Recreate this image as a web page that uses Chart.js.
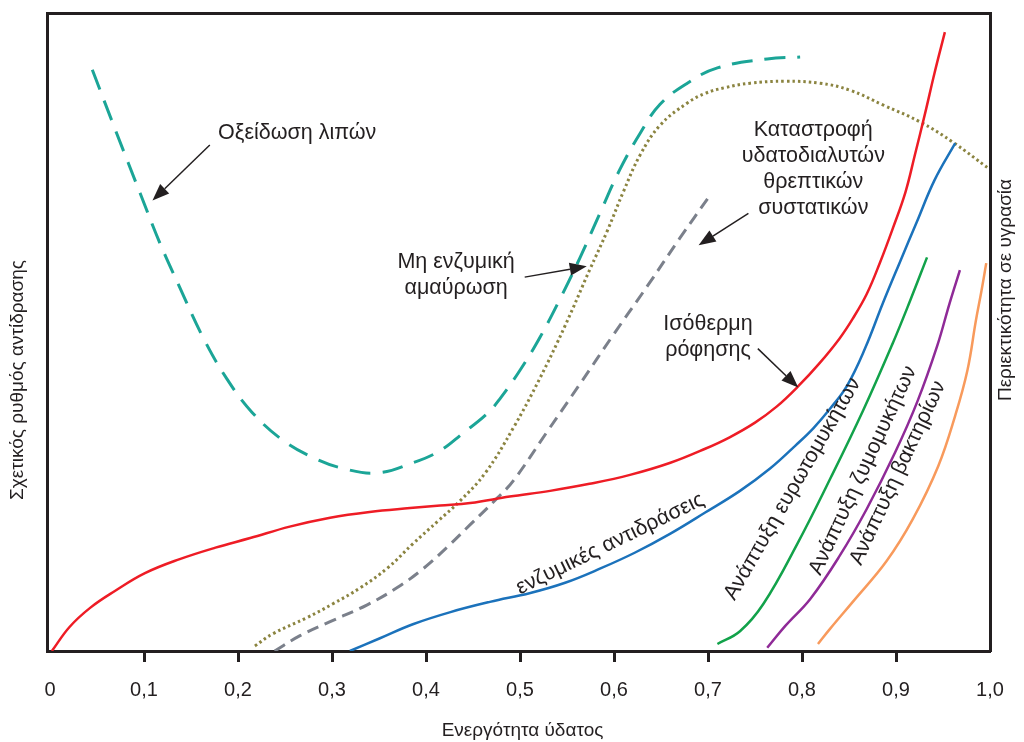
<!DOCTYPE html>
<html>
<head>
<meta charset="utf-8">
<script src="https://cdn.jsdelivr.net/npm/chart.js@4.4.0/dist/chart.umd.min.js"></script>
<style>
  html, body { margin: 0; padding: 0; background: #fff; }
  #wrap { width: 1024px; height: 742px; }
</style>
</head>
<body>
<div id="wrap"><canvas id="stabilityChart" width="1024" height="742"></canvas></div>
<script>
// water activity ticks
const awTicks = [0, 0.1, 0.2, 0.3, 0.4, 0.5, 0.6, 0.7, 0.8, 0.9, 1.0];

// relative reaction rate curves (y axis is unitless, 0-100)
const lipidX = [0.045, 0.070, 0.096, 0.117, 0.138, 0.163, 0.188, 0.215, 0.248, 0.280, 0.312, 0.348, 0.386, 0.415, 0.439, 0.465, 0.479, 0.500, 0.521, 0.543, 0.564, 0.585, 0.606, 0.628, 0.649, 0.678, 0.710, 0.763, 0.798];
const lipidY = [91.1, 81.5, 71.7, 63.9, 57.0, 49.1, 42.7, 37.4, 33.0, 30.3, 28.6, 27.9, 29.5, 31.4, 34.1, 37.2, 39.6, 44.0, 49.1, 55.3, 61.7, 68.6, 75.4, 81.2, 85.7, 89.0, 91.4, 92.8, 93.1];

const browningX = [0.218, 0.237, 0.273, 0.301, 0.330, 0.359, 0.386, 0.413, 0.436, 0.463, 0.493, 0.521, 0.548, 0.574, 0.593, 0.610, 0.628, 0.649, 0.678, 0.697, 0.718, 0.745, 0.782, 0.819, 0.851, 0.886, 0.926, 0.961, 0.997];
const browningY = [0.8, 2.7, 5.2, 7.4, 9.9, 13.0, 16.8, 20.4, 23.5, 27.9, 35.0, 42.7, 51.0, 59.7, 65.9, 72.0, 77.8, 82.4, 85.9, 87.4, 88.3, 89.0, 89.3, 89.0, 87.9, 85.6, 82.9, 79.7, 75.8];

const nutrientX = [0.239, 0.266, 0.298, 0.337, 0.369, 0.397, 0.422, 0.447, 0.476, 0.493, 0.529, 0.564, 0.599, 0.635, 0.670, 0.702];
const nutrientY = [0, 2.4, 4.6, 7.2, 9.9, 12.9, 16.2, 19.8, 24.0, 26.7, 34.4, 41.9, 49.5, 57.1, 64.7, 71.4];

const isothermX = [0.002, 0.021, 0.043, 0.069, 0.101, 0.138, 0.176, 0.213, 0.255, 0.298, 0.340, 0.383, 0.415, 0.447, 0.489, 0.532, 0.574, 0.617, 0.660, 0.697, 0.723, 0.750, 0.773, 0.796, 0.818, 0.840, 0.854, 0.869, 0.883, 0.897, 0.910, 0.920, 0.931, 0.941, 0.952];
const isothermY = [0, 3.8, 6.8, 9.4, 12.2, 14.4, 16.2, 17.7, 19.5, 20.9, 21.8, 22.4, 22.8, 23.2, 24.2, 25.1, 26.2, 27.6, 29.5, 31.7, 33.5, 35.8, 38.3, 41.5, 45.0, 49.0, 52.1, 56.0, 60.9, 66.4, 71.9, 77.7, 84.3, 90.6, 97.0];

const enzymeX = [0.319, 0.351, 0.386, 0.426, 0.468, 0.511, 0.548, 0.585, 0.622, 0.660, 0.697, 0.734, 0.766, 0.793, 0.812, 0.830, 0.848, 0.867, 0.886, 0.904, 0.922, 0.941, 0.963];
const enzymeY = [0, 2.0, 4.2, 6.1, 7.7, 9.1, 10.7, 12.9, 15.4, 18.4, 21.7, 25.1, 28.6, 32.2, 34.9, 38.0, 41.6, 47.4, 54.5, 60.9, 67.2, 73.8, 79.6];

const moldX = [0.710, 0.734, 0.759, 0.795, 0.830, 0.865, 0.897, 0.915, 0.933];
const moldY = [1.1, 3.1, 7.4, 16.8, 27.0, 37.7, 48.4, 54.9, 61.7];

const yeastX = [0.763, 0.782, 0.809, 0.840, 0.869, 0.899, 0.923, 0.944, 0.957, 0.968];
const yeastY = [0.5, 3.9, 8.2, 14.9, 22.3, 31.1, 39.2, 47.9, 54.5, 59.7];

const bacteriaX = [0.817, 0.830, 0.854, 0.890, 0.918, 0.945, 0.963, 0.976, 0.985, 0.991, 0.996];
const bacteriaY = [1.1, 3.5, 7.7, 14.1, 20.7, 29.0, 36.9, 44.0, 51.8, 56.5, 60.8];

const ink = '#231f20';
const font = '"Liberation Sans", Arial, sans-serif';

function pts(xs, ys) {
  return xs.map((v, i) => ({ x: v, y: ys[i] }));
}

function line(xs, ys, color, dash, width) {
  return {
    data: pts(xs, ys),
    borderColor: color,
    borderWidth: width || 2.5,
    borderDash: dash || [],
    pointRadius: 0,
    fill: false,
    tension: 0.4
  };
}

// labels and arrows, placed in data coordinates
const notes = [
  { lines: ['Οξείδωση λιπών'], x: 0.263, y: 81.2 },
  { lines: ['Μη ενζυμική', 'αμαύρωση'], x: 0.432, y: 58.9 },
  { lines: ['Καταστροφή', 'υδατοδιαλυτών', 'θρεπτικών', 'συστατικών'], x: 0.812, y: 75.5 },
  { lines: ['Ισόθερμη', 'ρόφησης'], x: 0.700, y: 49.2 },
  { lines: ['ενζυμικές αντιδράσεις'], x: 0.596, y: 16.8, angle: -26 },
  { lines: ['Ανάπτυξη ευρωτομυκήτων'], x: 0.790, y: 25.4, angle: -60 },
  { lines: ['Ανάπτυξη ζυμομυκήτων'], x: 0.865, y: 28.3, angle: -65 },
  { lines: ['Ανάπτυξη βακτηρίων'], x: 0.902, y: 27.9, angle: -65 }
];
const arrows = [
  { from: [0.170, 79.3], to: [0.109, 70.6] },
  { from: [0.505, 58.6], to: [0.571, 60.3] },
  { from: [0.743, 68.6], to: [0.690, 63.6] },
  { from: [0.753, 47.4], to: [0.796, 41.3] }
];

const textPlugin = {
  id: 'stabilityText',
  afterDraw(chart) {
    const { ctx, chartArea, scales: { x, y } } = chart;
    ctx.save();
    ctx.fillStyle = ink;
    ctx.strokeStyle = ink;
    ctx.textAlign = 'center';
    ctx.textBaseline = 'middle';
    ctx.font = '21.5px ' + font;

    notes.forEach(n => {
      ctx.save();
      ctx.translate(x.getPixelForValue(n.x), y.getPixelForValue(n.y));
      ctx.rotate((n.angle || 0) * Math.PI / 180);
      n.lines.forEach((t, i) => ctx.fillText(t, 0, (i - (n.lines.length - 1) / 2) * 26));
      ctx.restore();
    });

    arrows.forEach(a => {
      const x1 = x.getPixelForValue(a.from[0]), y1 = y.getPixelForValue(a.from[1]);
      const x2 = x.getPixelForValue(a.to[0]), y2 = y.getPixelForValue(a.to[1]);
      const ang = Math.atan2(y2 - y1, x2 - x1);
      const head = 17, half = 6.5;
      ctx.lineWidth = 1.5;
      ctx.beginPath();
      ctx.moveTo(x1, y1);
      ctx.lineTo(x2 - head * Math.cos(ang), y2 - head * Math.sin(ang));
      ctx.stroke();
      ctx.beginPath();
      ctx.moveTo(x2, y2);
      ctx.lineTo(x2 - head * Math.cos(ang) + half * Math.sin(ang), y2 - head * Math.sin(ang) - half * Math.cos(ang));
      ctx.lineTo(x2 - head * Math.cos(ang) - half * Math.sin(ang), y2 - head * Math.sin(ang) + half * Math.cos(ang));
      ctx.closePath();
      ctx.fill();
    });

    // axis titles
    ctx.font = '19px ' + font;
    ctx.fillText('Ενεργότητα ύδατος', (chartArea.left + chartArea.right) / 2 + 4, chartArea.bottom + 80);
    ctx.save();
    ctx.translate(chartArea.left - 29, 380);
    ctx.rotate(-Math.PI / 2);
    ctx.fillText('Σχετικός ρυθμός αντίδρασης', 0, 0);
    ctx.restore();
    ctx.save();
    ctx.translate(chartArea.right + 16, 290);
    ctx.rotate(-Math.PI / 2);
    ctx.fillText('Περιεκτικότητα σε υγρασία', 0, 0);
    ctx.restore();
    ctx.restore();
  }
};

const hiddenAxis = (pos, axis) => ({
  position: pos,
  axis: axis,
  min: 0,
  max: 1,
  ticks: { display: false },
  grid: { display: false, drawTicks: false },
  border: { display: true, color: ink, width: 3 }
});

new Chart(document.getElementById('stabilityChart'), {
  type: 'line',
  data: {
    datasets: [
      line(isothermX, isothermY, '#ee1c25'),
      line(enzymeX, enzymeY, '#1b72bb'),
      line(moldX, moldY, '#12a24a'),
      line(yeastX, yeastY, '#8f2a97'),
      line(bacteriaX, bacteriaY, '#f89a5c'),
      line(nutrientX, nutrientY, '#7b808b', [12, 7], 3),
      line(browningX, browningY, '#8b8440', [2.5, 3], 3),
      line(lipidX, lipidY, '#1ba597', [21, 12], 3)
    ]
  },
  options: {
    responsive: false,
    animation: false,
    layout: { padding: { left: 47, right: 34, top: 13, bottom: 24 } },
    plugins: { legend: { display: false }, tooltip: { enabled: false } },
    scales: {
      x: {
        type: 'linear',
        position: 'bottom',
        min: -0.0032,
        max: 1.0,
        afterBuildTicks: s => { s.ticks = awTicks.map(v => ({ value: v })); },
        ticks: {
          color: ink,
          padding: 16,
          maxRotation: 0,
          autoSkip: false,
          font: { family: font, size: 20 },
          callback: v => v === 0 ? '0' : v.toFixed(1).replace('.', ',')
        },
        grid: {
          display: true,
          drawOnChartArea: false,
          drawTicks: true,
          tickLength: 11,
          tickWidth: 3,
          tickColor: c => (c.index === 0 || c.index === awTicks.length - 1) ? 'rgba(0,0,0,0)' : ink
        },
        border: { display: true, color: ink, width: 3 }
      },
      y: {
        position: 'left',
        min: 0,
        max: 100,
        ticks: { display: false },
        grid: { display: false, drawTicks: false },
        border: { display: true, color: ink, width: 3 }
      },
      xTop: hiddenAxis('top', 'x'),
      yRight: hiddenAxis('right', 'y')
    }
  },
  plugins: [textPlugin]
});
</script>
</body>
</html>
